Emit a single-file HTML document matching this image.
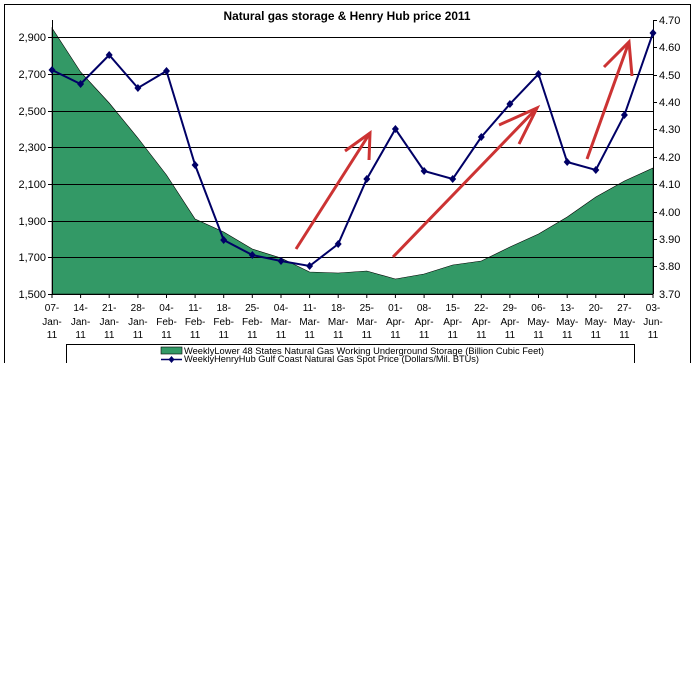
<!DOCTYPE html>
<html><head><meta charset="utf-8"><style>html,body{margin:0;padding:0;background:#fff}svg{display:block}</style></head>
<body>
<svg width="694" height="694" viewBox="0 0 694 694" xmlns="http://www.w3.org/2000/svg" font-family="Liberation Sans, Arial, sans-serif">
<rect x="0" y="0" width="694" height="694" fill="#fff"/>
<path d="M4.5,363 V4.5 H690.5 V363" fill="none" stroke="#000" stroke-width="1"/>
<text x="347" y="20" font-size="12" font-weight="bold" text-anchor="middle" textLength="247" lengthAdjust="spacingAndGlyphs">Natural gas storage &amp; Henry Hub price 2011</text>
<polygon fill="#339966" stroke="#000" stroke-width="0.6" points="52,294 52,28 80.6,72 109.2,103 137.9,138 166.5,175 195.1,219 223.7,232 252.3,249 281,258 309.6,272 338.2,273 366.8,271 395.4,279 424.1,274 452.7,265 481.3,261 509.9,247 538.5,234 567.2,217 595.8,197 624.4,181 653,168 653,294"/>
<g stroke="#000" stroke-width="1">
<line x1="52" y1="37.5" x2="653" y2="37.5"/>
<line x1="52" y1="74.5" x2="653" y2="74.5"/>
<line x1="52" y1="111.5" x2="653" y2="111.5"/>
<line x1="52" y1="147.5" x2="653" y2="147.5"/>
<line x1="52" y1="184.5" x2="653" y2="184.5"/>
<line x1="52" y1="221.5" x2="653" y2="221.5"/>
<line x1="52" y1="257.5" x2="653" y2="257.5"/>
<line x1="52.5" y1="20" x2="52.5" y2="294"/>
<line x1="653.5" y1="20" x2="653.5" y2="294"/>
<line x1="52" y1="294.5" x2="653" y2="294.5"/>
</g>
<g stroke="#000" stroke-width="1">
<line x1="48" y1="37.5" x2="52" y2="37.5"/><line x1="48" y1="74.5" x2="52" y2="74.5"/><line x1="48" y1="111.5" x2="52" y2="111.5"/><line x1="48" y1="147.5" x2="52" y2="147.5"/><line x1="48" y1="184.5" x2="52" y2="184.5"/><line x1="48" y1="221.5" x2="52" y2="221.5"/><line x1="48" y1="257.5" x2="52" y2="257.5"/><line x1="48" y1="294.5" x2="52" y2="294.5"/>
<line x1="653" y1="20.5" x2="657" y2="20.5"/><line x1="653" y1="47.5" x2="657" y2="47.5"/><line x1="653" y1="75.5" x2="657" y2="75.5"/><line x1="653" y1="102.5" x2="657" y2="102.5"/><line x1="653" y1="129.5" x2="657" y2="129.5"/><line x1="653" y1="157.5" x2="657" y2="157.5"/><line x1="653" y1="184.5" x2="657" y2="184.5"/><line x1="653" y1="212.5" x2="657" y2="212.5"/><line x1="653" y1="239.5" x2="657" y2="239.5"/><line x1="653" y1="266.5" x2="657" y2="266.5"/>
<line x1="52" y1="294" x2="52" y2="298"/><line x1="80.6" y1="294" x2="80.6" y2="298"/><line x1="109.2" y1="294" x2="109.2" y2="298"/><line x1="137.9" y1="294" x2="137.9" y2="298"/><line x1="166.5" y1="294" x2="166.5" y2="298"/><line x1="195.1" y1="294" x2="195.1" y2="298"/><line x1="223.7" y1="294" x2="223.7" y2="298"/><line x1="252.3" y1="294" x2="252.3" y2="298"/><line x1="281" y1="294" x2="281" y2="298"/><line x1="309.6" y1="294" x2="309.6" y2="298"/><line x1="338.2" y1="294" x2="338.2" y2="298"/><line x1="366.8" y1="294" x2="366.8" y2="298"/><line x1="395.4" y1="294" x2="395.4" y2="298"/><line x1="424.1" y1="294" x2="424.1" y2="298"/><line x1="452.7" y1="294" x2="452.7" y2="298"/><line x1="481.3" y1="294" x2="481.3" y2="298"/><line x1="509.9" y1="294" x2="509.9" y2="298"/><line x1="538.5" y1="294" x2="538.5" y2="298"/><line x1="567.2" y1="294" x2="567.2" y2="298"/><line x1="595.8" y1="294" x2="595.8" y2="298"/><line x1="624.4" y1="294" x2="624.4" y2="298"/><line x1="653" y1="294" x2="653" y2="298"/>
</g>
<g font-size="11" text-anchor="end" fill="#000">
<text x="46" y="41">2,900</text><text x="46" y="78">2,700</text><text x="46" y="115">2,500</text><text x="46" y="151">2,300</text><text x="46" y="188">2,100</text><text x="46" y="225">1,900</text><text x="46" y="261">1,700</text><text x="46" y="298">1,500</text>
</g>
<g font-size="11" fill="#000">
<text x="659" y="24">4.70</text><text x="659" y="51">4.60</text><text x="659" y="79">4.50</text><text x="659" y="106">4.40</text><text x="659" y="133">4.30</text><text x="659" y="161">4.20</text><text x="659" y="188">4.10</text><text x="659" y="216">4.00</text><text x="659" y="243">3.90</text><text x="659" y="270">3.80</text><text x="659" y="298">3.70</text>
</g>
<g font-size="10" text-anchor="middle" fill="#000">
<text y="311"><tspan x="52">07-</tspan><tspan x="80.6">14-</tspan><tspan x="109.2">21-</tspan><tspan x="137.9">28-</tspan><tspan x="166.5">04-</tspan><tspan x="195.1">11-</tspan><tspan x="223.7">18-</tspan><tspan x="252.3">25-</tspan><tspan x="281">04-</tspan><tspan x="309.6">11-</tspan><tspan x="338.2">18-</tspan><tspan x="366.8">25-</tspan><tspan x="395.4">01-</tspan><tspan x="424.1">08-</tspan><tspan x="452.7">15-</tspan><tspan x="481.3">22-</tspan><tspan x="509.9">29-</tspan><tspan x="538.5">06-</tspan><tspan x="567.2">13-</tspan><tspan x="595.8">20-</tspan><tspan x="624.4">27-</tspan><tspan x="653">03-</tspan></text>
<text y="325"><tspan x="52">Jan-</tspan><tspan x="80.6">Jan-</tspan><tspan x="109.2">Jan-</tspan><tspan x="137.9">Jan-</tspan><tspan x="166.5">Feb-</tspan><tspan x="195.1">Feb-</tspan><tspan x="223.7">Feb-</tspan><tspan x="252.3">Feb-</tspan><tspan x="281">Mar-</tspan><tspan x="309.6">Mar-</tspan><tspan x="338.2">Mar-</tspan><tspan x="366.8">Mar-</tspan><tspan x="395.4">Apr-</tspan><tspan x="424.1">Apr-</tspan><tspan x="452.7">Apr-</tspan><tspan x="481.3">Apr-</tspan><tspan x="509.9">Apr-</tspan><tspan x="538.5">May-</tspan><tspan x="567.2">May-</tspan><tspan x="595.8">May-</tspan><tspan x="624.4">May-</tspan><tspan x="653">Jun-</tspan></text>
<text y="338"><tspan x="52">11</tspan><tspan x="80.6">11</tspan><tspan x="109.2">11</tspan><tspan x="137.9">11</tspan><tspan x="166.5">11</tspan><tspan x="195.1">11</tspan><tspan x="223.7">11</tspan><tspan x="252.3">11</tspan><tspan x="281">11</tspan><tspan x="309.6">11</tspan><tspan x="338.2">11</tspan><tspan x="366.8">11</tspan><tspan x="395.4">11</tspan><tspan x="424.1">11</tspan><tspan x="452.7">11</tspan><tspan x="481.3">11</tspan><tspan x="509.9">11</tspan><tspan x="538.5">11</tspan><tspan x="567.2">11</tspan><tspan x="595.8">11</tspan><tspan x="624.4">11</tspan><tspan x="653">11</tspan></text>
</g>
<defs><path id="d" d="M0,-4 L3.5,0 L0,4 L-3.5,0Z" fill="#000066"/></defs>
<polyline fill="none" stroke="#000066" stroke-width="2" points="52,70 80.6,84 109.2,55 137.9,88 166.5,71 195.1,165 223.7,240 252.3,255 281,261 309.6,266 338.2,244 366.8,179 395.4,129 424.1,171 452.7,179 481.3,137 509.9,104 538.5,74 567.2,162 595.8,170 624.4,115 653,33"/>
<g>
<use href="#d" x="52" y="70"/><use href="#d" x="80.6" y="84"/><use href="#d" x="109.2" y="55"/><use href="#d" x="137.9" y="88"/><use href="#d" x="166.5" y="71"/><use href="#d" x="195.1" y="165"/><use href="#d" x="223.7" y="240"/><use href="#d" x="252.3" y="255"/><use href="#d" x="281" y="261"/><use href="#d" x="309.6" y="266"/><use href="#d" x="338.2" y="244"/><use href="#d" x="366.8" y="179"/><use href="#d" x="395.4" y="129"/><use href="#d" x="424.1" y="171"/><use href="#d" x="452.7" y="179"/><use href="#d" x="481.3" y="137"/><use href="#d" x="509.9" y="104"/><use href="#d" x="538.5" y="74"/><use href="#d" x="567.2" y="162"/><use href="#d" x="595.8" y="170"/><use href="#d" x="624.4" y="115"/><use href="#d" x="653" y="33"/>
</g>
<g stroke="#cc3333" stroke-width="3" fill="none">
<line x1="296" y1="249" x2="370" y2="133"/><polyline points="345,151 370,133 369,160"/>
<line x1="393" y1="257" x2="537" y2="108"/><polyline points="499,125 537,108 519,144"/>
<line x1="587" y1="159" x2="629" y2="42"/><polyline points="604,67 629,42 632,76"/>
</g>
<path d="M66.5,363 V344.5 H634.5 V363" fill="none" stroke="#000"/>
<rect x="161" y="347" width="21" height="7" fill="#339966" stroke="#000" stroke-width="0.6"/>
<line x1="161" y1="359.5" x2="182" y2="359.5" stroke="#000066" stroke-width="1.5"/>
<path d="M171.5,356 l3,3.5 l-3,3.5 l-3,-3.5z" fill="#000066"/>
<g font-size="9" fill="#000">
<text x="184" y="354" textLength="360" lengthAdjust="spacingAndGlyphs">WeeklyLower 48 States Natural Gas Working Underground Storage  (Billion Cubic Feet)</text>
<text x="184" y="362" textLength="295" lengthAdjust="spacingAndGlyphs">WeeklyHenryHub Gulf Coast Natural Gas Spot Price (Dollars/Mil. BTUs)</text>
</g>
</svg>
</body></html>
